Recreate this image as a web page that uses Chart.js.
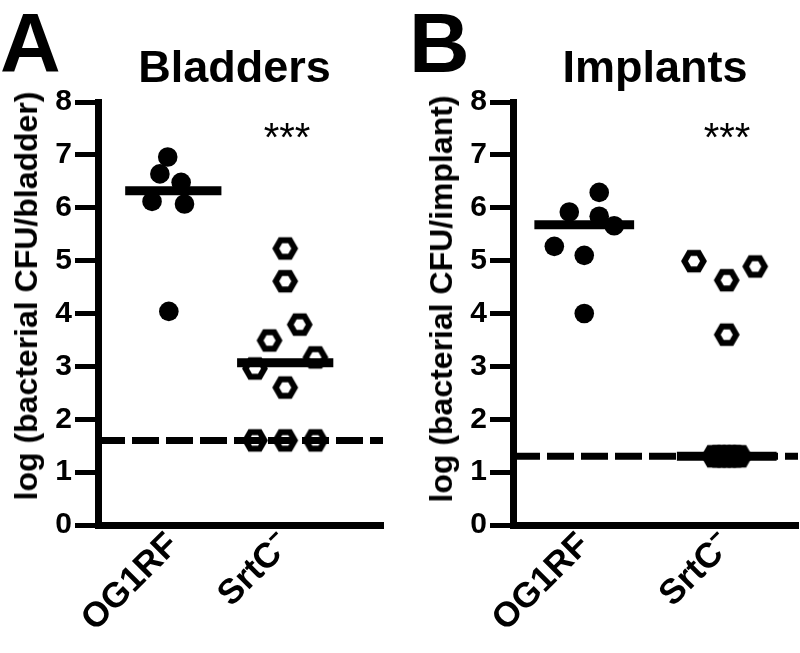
<!DOCTYPE html>
<html><head><meta charset="utf-8">
<script src="https://cdn.jsdelivr.net/npm/chart.js@4.4.1/dist/chart.umd.min.js"></script>
<style>
html,body{margin:0;padding:0;background:#fff;overflow:hidden;width:800px;height:653px;position:relative;}
.wrap{position:absolute;top:0;width:400px;height:653px;}
canvas{display:block}
.t{position:absolute;font-family:"Liberation Sans",Arial,sans-serif;font-weight:bold;color:#000;line-height:1;white-space:nowrap;}
</style></head><body>
<div class="wrap" style="left:0"><canvas id="ca" width="400" height="653"></canvas></div>
<div class="wrap" style="left:415px"><canvas id="cb" width="400" height="653"></canvas></div>
<div class="t" style="left:0;top:1px;font-size:84px;">A</div>
<div class="t" style="left:234.5px;top:44px;font-size:45px;transform:translateX(-50%);">Bladders</div>
<div class="t" style="left:287px;top:117px;font-size:40px;font-weight:normal;transform:translateX(-50%);">***</div>
<div class="t" style="left:26px;top:296px;font-size:32px;transform:translate(-50%,-50%) rotate(-90deg);">log (bacterial CFU/bladder)</div>
<div class="t" style="left:409px;top:1px;font-size:84px;">B</div>
<div class="t" style="left:655px;top:44px;font-size:45px;transform:translateX(-50%);">Implants</div>
<div class="t" style="left:727px;top:117px;font-size:40px;font-weight:normal;transform:translateX(-50%);">***</div>
<div class="t" style="left:441px;top:299px;font-size:32px;transform:translate(-50%,-50%) rotate(-90deg);">log (bacterial CFU/implant)</div>
<script>
// ---------- data ----------
const categories = ['OG1RF', 'SrtC\u207B'];
const yTickLabels = ['0','1','2','3','4','5','6','7','8'];

const bladderOG1RF = [6.96, 6.64, 6.48, 6.12, 6.07, 4.04];
const bladderOG1RFJitter = [-0.05, -0.12, 0.07, -0.19, 0.10, -0.04];
const bladderSrtC = [5.23, 4.61, 3.79, 3.49, 3.17, 2.96, 2.60, 1.6, 1.6, 1.6];
const bladderSrtCJitter = [0, 0, 0.13, -0.14, 0.27, -0.27, 0, -0.27, 0, 0.27];
const bladderMedians = [6.32, 3.07];
const bladderLimit = 1.6;

const implantOG1RF = [6.29, 5.92, 5.84, 5.66, 5.27, 5.10, 4.0];
const implantOG1RFJitter = [0.105, -0.105, 0.105, 0.21, -0.21, 0, 0];
const implantSrtC = [4.99, 4.89, 4.63, 3.6];
const implantSrtCJitter = [-0.23, 0.2, 0, 0];
const implantSrtCAtLimit = [1.3, 1.3, 1.3, 1.3, 1.3, 1.3];
const implantSrtCAtLimitJitter = [-0.09, -0.054, -0.018, 0.018, 0.054, 0.09];
const implantMedians = [5.68, 1.3];
const implantLimit = 1.3;

// ---------- styles ----------
const FONT = '"Liberation Sans", Arial, sans-serif';
function makeHex(filled) {
  const c = document.createElement('canvas');
  c.width = 28; c.height = 26;
  const g = c.getContext('2d');
  const cx = 14, cy = 13, R = 9.5;
  g.beginPath();
  for (let k = 0; k < 6; k++) {
    const a = k * Math.PI / 3;
    const px = cx + R * Math.cos(a), py = cy + R * Math.sin(a);
    if (k === 0) g.moveTo(px, py); else g.lineTo(px, py);
  }
  g.closePath();
  g.lineJoin = 'miter';
  g.lineWidth = 6;
  g.strokeStyle = '#000';
  if (filled) { g.fillStyle = '#000'; g.fill(); }
  g.stroke();
  return c;
}
const hexOpen = makeHex(false);
const hexFilled = makeHex(true);

function pts(values, jitter, cat) {
  return values.map((v, i) => ({ x: cat + jitter[i], y: v }));
}

function makeChart(id, p) {
  const datasets = [];
  datasets.push({
    data: [{ x: p.xMin, y: p.limit }, { x: p.xMax, y: p.limit }],
    showLine: true, borderColor: '#000', borderWidth: 7, borderDash: [27, 7],
    pointRadius: 0, fill: false, order: 5
  });
  datasets.push({
    data: pts(p.og, p.ogJ, 1), pointStyle: 'circle', pointRadius: 9.8,
    backgroundColor: '#000', borderColor: '#000', borderWidth: 0, showLine: false, order: 3
  });
  datasets.push({
    data: pts(p.srt, p.srtJ, 2), pointStyle: hexOpen, pointRadius: 13,
    backgroundColor: '#000', borderColor: '#000', showLine: false, order: 3
  });
  if (p.srtLim) {
    datasets.push({
      data: pts(p.srtLim, p.srtLimJ, 2), pointStyle: hexFilled, pointRadius: 13,
      backgroundColor: '#000', borderColor: '#000', showLine: false, order: 3
    });
  }
  p.medians.forEach((m, i) => {
    const c = i + 1;
    datasets.push({
      data: [{ x: c - p.hw, y: m }, { x: c + p.hw, y: m }],
      showLine: true, borderColor: '#000', borderWidth: 9, pointRadius: 0, fill: false, order: 1
    });
  });
  return new Chart(document.getElementById(id), {
    type: 'scatter',
    data: { datasets },
    options: {
      responsive: false, animation: false, events: [],
      layout: { padding: { left: 0, right: 17, top: 102, bottom: 0 } },
      plugins: { legend: { display: false }, tooltip: { enabled: false }, title: { display: false } },
      scales: {
        x: {
          type: 'linear', position: 'bottom', min: p.xMin, max: p.xMax,
          afterBuildTicks: s => { s.ticks = categories.map((c, i) => ({ value: i + 1 })); },
          ticks: {
            callback: v => categories[Math.round(v) - 1] || '',
            autoSkip: false, minRotation: 45, maxRotation: 45, padding: 0,
            color: '#000', font: { family: FONT, size: 35, weight: 'bold' }
          },
          grid: { display: false, drawTicks: false },
          border: { display: true, color: '#000', width: 7 },
          afterFit: s => { s.height = 128; s.paddingLeft = 0; s.paddingRight = 0; }
        },
        y: {
          min: 0, max: 8,
          ticks: {
            stepSize: 1, callback: v => yTickLabels[v], padding: 3,
            color: '#000', font: { family: FONT, size: 30, weight: 'bold' }
          },
          grid: { drawOnChartArea: false, drawTicks: true, tickLength: 23, lineWidth: 5, color: '#000' },
          border: { display: true, color: '#000', width: 7 },
          afterFit: s => { s.width = 98; s.paddingTop = 0; s.paddingBottom = 0; }
        }
      }
    }
  });
}

makeChart('ca', {
  xMin: 0.327, xMax: 2.874, limit: bladderLimit,
  og: bladderOG1RF, ogJ: bladderOG1RFJitter,
  srt: bladderSrtC, srtJ: bladderSrtCJitter,
  medians: bladderMedians, hw: 0.43
});
makeChart('cb', {
  xMin: 0.5, xMax: 2.5, limit: implantLimit,
  og: implantOG1RF, ogJ: implantOG1RFJitter,
  srt: implantSrtC, srtJ: implantSrtCJitter,
  srtLim: implantSrtCAtLimit, srtLimJ: implantSrtCAtLimitJitter,
  medians: implantMedians, hw: 0.35
});
</script>
</body></html>
